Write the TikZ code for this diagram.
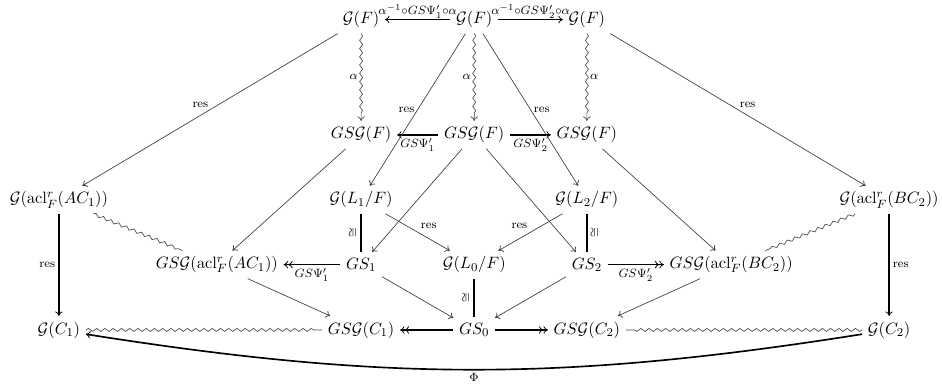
\documentclass[11pt,tikz,border=0pt]{standalone}
\usepackage{amsmath,amssymb}
\usepackage{graphicx}
\usepackage{tikz}
\usetikzlibrary{arrows.meta, decorations.pathmorphing}
\newcommand{\GG}{\mathcal{G}}
\newcommand{\acl}{\mathrm{acl}}

\begin{document}
\begin{tikzpicture}[
    >={Computer Modern Rightarrow[length=3pt,width=5pt,line width=0.5pt]},
    resar/.style={->, draw=black!75, line width=0.45pt},
    strong/.style={line width=1.1pt},
    wave/.style={draw=black!70, line width=0.45pt, decorate, decoration={snake, amplitude=1pt, segment length=5.5pt, post length=3pt}},
    lab/.style={font=\scriptsize, inner sep=2pt},
    mlab/.style={inner sep=2pt},
]
    \useasboundingbox (0,0) rectangle (22.07,9.11);

    \node (gf1) at (8.46,8.65) {$\GG(F)$};
    \node (gf0) at (11.11,8.65) {$\GG(F)$};
    \node (gf2) at (13.75,8.65) {$\GG(F)$};
    \node (gsgf1) at (8.46,5.95) {$GS\GG(F)$};
    \node (gsgf0) at (11.11,5.95) {$GS\GG(F)$};
    \node (gsgf2) at (13.75,5.95) {$GS\GG(F)$};
    \node (ac1) at (1.38,4.43) {$\GG(\acl^r_F(AC_1))$};
    \node (gl1) at (8.46,4.43) {$\GG(L_1/F)$};
    \node (gl2) at (13.75,4.43) {$\GG(L_2/F)$};
    \node (bc2) at (20.83,4.43) {$\GG(\acl^r_F(BC_2))$};
    \node (gsac1) at (5.08,2.91) {$GS\GG(\acl^r_F(AC_1))$};
    \node (gs1) at (8.46,2.91) {$GS_1$};
    \node (gl0) at (11.11,2.91) {$\GG(L_0/F)$};
    \node (gs2) at (13.75,2.91) {$GS_2$};
    \node (gsbc2) at (17.13,2.91) {$GS\GG(\acl^r_F(BC_2))$};
    \node (c1) at (1.38,1.38) {$\GG(C_1)$};
    \node (gsc1) at (8.46,1.38) {$GS\GG(C_1)$};
    \node (gs0) at (11.11,1.38) {$GS_0$};
    \node (gsc2) at (13.75,1.38) {$GS\GG(C_2)$};
    \node (c2) at (20.83,1.38) {$\GG(C_2)$};

    \draw[strong,->] (gf0) -- node[mlab,above,inner sep=0.5pt] {$\scriptstyle\alpha^{-1}\circ GS\Psi'_1\circ\alpha$} (gf1);
    \draw[strong,->] (gf0) -- node[mlab,above,inner sep=0.5pt] {$\scriptstyle\alpha^{-1}\circ GS\Psi'_2\circ\alpha$} (gf2);
    \foreach \a/\b/\s in {gf1/gsgf1/left, gf0/gsgf0/left, gf2/gsgf2/right}
        \draw[wave,->] (\a) -- node[mlab,\s] {$\scriptstyle\alpha$} (\b);
    \draw[strong,->] (gsgf0) -- node[mlab,below] {$\scriptstyle GS\Psi'_1$} (gsgf1);
    \draw[strong,->] (gsgf0) -- node[mlab,below] {$\scriptstyle GS\Psi'_2$} (gsgf2);

    \draw[resar] (gf1) -- node[lab,above left=-1pt] {res} (ac1);
    \draw[resar] (gf2) -- node[lab,above right=-1pt] {res} (bc2);
    \draw[resar] (gf0) -- node[lab,left] {res} (gl1);
    \draw[resar] (gf0) -- node[lab,right] {res} (gl2);
    \draw[resar] (gsgf1) -- (gsac1);
    \draw[resar] (gsgf2) -- (gsbc2);
    \draw[resar] (gsgf0) -- (gs1);
    \draw[resar] (gsgf0) -- (gs2);
    \draw[resar] (gl1) -- node[lab,above right] {res} (gl0);
    \draw[resar] (gl2) -- node[lab,above left] {res} (gl0);
    \draw[resar] (gs1) -- (gs0);
    \draw[resar] (gs2) -- (gs0);
    \draw[resar] (gsac1) -- (gsc1);
    \draw[resar] (gsbc2) -- (gsc2);

    \draw[strong,->] (ac1) -- node[lab,left] {res} (c1);
    \draw[strong,->] (bc2) -- node[lab,right] {res} (c2);
    \draw[strong] (gl1) -- node[lab,left] {\rotatebox{90}{$\cong$}} (gs1);
    \draw[strong] (gl2) -- node[lab,right] {\rotatebox{90}{$\cong$}} (gs2);
    \draw[strong] (gl0) -- node[lab,left] {\rotatebox{90}{$\cong$}} (gs0);
    \draw[strong,->>] (gs1) -- node[mlab,below] {$\scriptstyle GS\Psi'_1$} (gsac1);
    \draw[strong,->>] (gs2) -- node[mlab,below] {$\scriptstyle GS\Psi'_2$} (gsbc2);
    \draw[strong,->>] (gs0) -- (gsc1);
    \draw[strong,->>] (gs0) -- (gsc2);

    \draw[wave] (ac1) -- (gsac1);
    \draw[wave] (bc2) -- (gsbc2);
    \draw[wave] (c1) -- (gsc1);
    \draw[wave] (c2) -- (gsc2);

    \draw[strong,->] (c2) to[bend left=9] node[mlab,below] {$\scriptstyle\Phi$} (c1);
\end{tikzpicture}
\end{document}
